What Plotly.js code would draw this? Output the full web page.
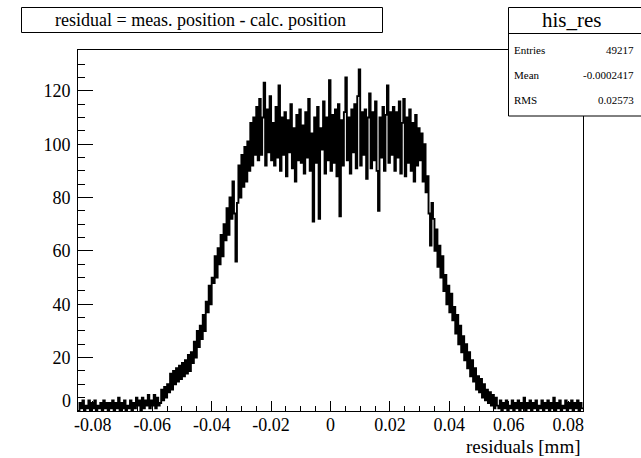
<!DOCTYPE html>
<html>
<head>
<meta charset="utf-8">
<script src="https://cdn.plot.ly/plotly-3.0.1.min.js"></script>
<style>
  html, body { margin: 0; padding: 0; background: #ffffff; }
  #chart { width: 641px; height: 458px; }
</style>
</head>
<body>
<div id="chart"></div>
<script>
// ---- Data ----
const histName = "his_res";
const chartTitle = "residual = meas. position - calc. position";
const xAxisTitle = "residuals [mm]";
const binLow = -0.085;
const binWidth = 0.0005;

const countsLeftTail = [0,3,1,4,0,2,1,4,0,3, 1,4,0,2,1,3,0,4,1,3,
  0,3,1,4,0,3,1,5,0,3, 1,4,0,2,1,4,0,3,1,5,
  2,4,0,5,1,4,2,6,1,4, 2,6,1,5,2];
const countsRise = [3,8,4,9,5,10,
  7,14,8,15,10,16,11,17,12,18,
  13,19,14,21,15,22,
  18,26,20,30,24,32,
  27,36,30,41,
  37,47,40,50,
  48,58,50,61,
  55,66,58,70,
  64,76,66,80,
  72,86,74,56,78,92,
  80,96,84,99,86,101,
  90,108,92,110,96,114,
  94,117,96,110,123,92,113,97,118,94];
const countsPlateau = [108,92,114,95,122,90,110,96,112,88,109,97,115,91,106,86,111,94,113,93,
  107,89,112,95,117,90,104,71,110,93,114,72,106,98,116,89,110,94,124,90,
  111,93,113,88,115,73,109,92,112,125,94,110,89,113,97,115,91,118,128,92,
  112,96,113,87,110,119,91,112,94,116,90,75,110,95,114,90,111,122,93,112,
  96,114,90,112,95,116,89,108,117,88,110,93,113,90,108,86,111,92,106,94];
const countsFall = [104,86,100,82,
  88,74,62,78,
  72,60,68,54,
  62,50,58,45,
  51,40,47,37,
  44,34,39,29,
  36,25,32,22,
  28,19,25,16,
  22,13,19,11,
  16,8,13,7,
  12,5,10,4,8,3,
  7,2,6,1,5,2];
const countsRightTail = [1,4,0,3,1,4,0,2,1,4, 0,3,1,4,0,3,1,5,0,3,
  1,4,0,3,1,4,0,2,1,4, 0,3,1,4,0,3,1,5,0,3,
  1,4,0,2,1,4,0,3,1,4, 0,3,1,4,0,3,1];

const xTickVals = [-0.08,-0.06,-0.04,-0.02,0,0.02,0.04,0.06,0.08];
const xTickText = ["-0.08","-0.06","-0.04","-0.02","0","0.02","0.04","0.06","0.08"];
const yTickVals = [20,40,60,80,100,120];
const yTickText = ["20","40","60","80","100","120"];

const statsLabels = ["Entries","Mean","RMS"];
const statsValues = ["49217","-0.0002417","0.02573"];

// ---- Build step outline from bins ----
const counts = [].concat(countsLeftTail, countsRise, countsPlateau, countsFall, countsRightTail);
const xs = [], ys = [];
for (let i = 0; i < counts.length; i++) {
  xs.push(binLow + i * binWidth);
  ys.push(counts[i]);
}
xs.push(binLow + counts.length * binWidth);
ys.push(counts[counts.length - 1]);

// ---- Layout geometry helpers (pixel -> paper) ----
const L = 78, R = 583, T = 50, B = 411;
const px = x => (x - L) / (R - L);
const py = y => (B - y) / (B - T);
const serif = "Liberation Serif, Times New Roman, serif";

const trace = {
  type: "scatter",
  mode: "lines",
  x: xs,
  y: ys,
  line: { shape: "hv", color: "#000000", width: 1.9 },
  hoverinfo: "skip"
};

const rowY = [50, 75, 100];
const annotations = [
  { text: chartTitle, xref: "paper", yref: "paper", x: px(200), y: py(20),
    xanchor: "center", yanchor: "middle", showarrow: false,
    font: { family: serif, size: 18, color: "#000" } },
  { text: histName, xref: "paper", yref: "paper", x: px(572), y: py(20),
    xanchor: "center", yanchor: "middle", showarrow: false,
    font: { family: serif, size: 21, color: "#000" } },
  { text: xAxisTitle, xref: "paper", yref: "paper", x: px(583), y: py(446),
    xanchor: "right", yanchor: "middle", showarrow: false,
    font: { family: serif, size: 19, color: "#000" } },
  { text: "0", xref: "paper", yref: "paper", x: px(73), y: py(401),
    xanchor: "right", yanchor: "middle", showarrow: false,
    font: { family: serif, size: 18, color: "#000" } }
];
statsLabels.forEach((lab, k) => {
  annotations.push({ text: lab, xref: "paper", yref: "paper", x: px(512), y: py(rowY[k]),
    xanchor: "left", yanchor: "middle", showarrow: false,
    font: { family: serif, size: 11, color: "#000" } });
  annotations.push({ text: statsValues[k], xref: "paper", yref: "paper", x: px(636), y: py(rowY[k]),
    xanchor: "right", yanchor: "middle", showarrow: false,
    font: { family: serif, size: 11, color: "#000" } });
});

const shapes = [
  { type: "rect", xref: "paper", yref: "paper", x0: px(21.5), x1: px(382.5), y0: py(32.5), y1: py(7.5),
    fillcolor: "#ffffff", line: { color: "#000", width: 1 }, layer: "above" },
  { type: "rect", xref: "paper", yref: "paper", x0: px(508.5), x1: px(646), y0: py(116), y1: py(7.5),
    fillcolor: "#ffffff", line: { color: "#000", width: 1 }, layer: "above" },
  { type: "line", xref: "paper", yref: "paper", x0: px(508.5), x1: px(646), y0: py(33.5), y1: py(33.5),
    line: { color: "#000", width: 1 }, layer: "above" }
];

const layout = {
  width: 641, height: 458,
  margin: { l: L, r: 641 - R, t: T, b: 458 - B, pad: 0 },
  paper_bgcolor: "#ffffff",
  plot_bgcolor: "#ffffff",
  showlegend: false,
  font: { family: serif, size: 18, color: "#000" },
  xaxis: {
    range: [-0.085, 0.085],
    tickmode: "array", tickvals: xTickVals, ticktext: xTickText,
    ticks: "inside", ticklen: 10, tickwidth: 1, tickcolor: "#000",
    minor: { tickmode: "linear", tick0: 0, dtick: 0.005, ticks: "inside", ticklen: 5, tickwidth: 1, tickcolor: "#000", showgrid: false },
    showline: true, linecolor: "#000", linewidth: 1, mirror: true,
    showgrid: false, zeroline: false,
    tickfont: { family: serif, size: 18, color: "#000" },
    ticklabelstandoff: -3
  },
  yaxis: {
    range: [0, 135.3],
    tickmode: "array", tickvals: yTickVals, ticktext: yTickText,
    ticks: "inside", ticklen: 15, tickwidth: 1, tickcolor: "#000",
    minor: { tickmode: "linear", tick0: 0, dtick: 5, ticks: "inside", ticklen: 7, tickwidth: 1, tickcolor: "#000", showgrid: false },
    showline: true, linecolor: "#000", linewidth: 1, mirror: true,
    showgrid: false, zeroline: false,
    tickfont: { family: serif, size: 18, color: "#000" },
    ticklabelstandoff: 3
  },
  shapes: shapes,
  annotations: annotations
};

Plotly.newPlot("chart", [trace], layout, { staticPlot: true, displayModeBar: false });
</script>
</body>
</html>
